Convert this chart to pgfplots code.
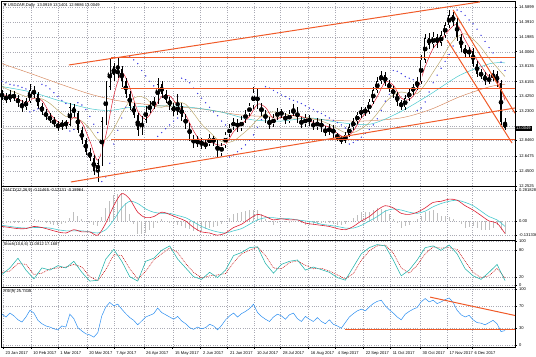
\documentclass[border=0pt]{standalone}
\usepackage{fontspec}
\setmainfont{Liberation Sans}
\newfontfamily\djv{DejaVu Sans}
\usepackage{pgfplots}
\usepackage{pgfplotstable}
\pgfplotsset{compat=1.18}
\definecolor{trendc}{RGB}{240,90,40}
\definecolor{maRed}{RGB}{220,30,50}
\definecolor{maTan}{RGB}{190,170,110}
\definecolor{maCyan}{RGB}{70,200,205}
\definecolor{maBrown}{RGB}{215,140,100}
\definecolor{sarBlue}{RGB}{60,60,225}
\definecolor{rsiBlue}{RGB}{40,140,240}
\definecolor{stTeal}{RGB}{32,178,170}
\definecolor{gridc}{RGB}{170,170,180}
\newcommand\lab{\fontsize{4.1}{4.8}\selectfont}

\pgfplotstableread{
x o h l c s r hist
1 13.45 13.50 13.38 13.42 13.62 55 -0.02
5 13.42 13.47 13.33 13.38 13.60 50 -0.02
9 13.38 13.50 13.35 13.45 13.58 57 -0.02
13 13.45 13.49 13.36 13.40 13.57 52 -0.02
17 13.40 13.44 13.29 13.33 13.56 45 -0.02
21 13.33 13.37 13.22 13.28 13.54 41 -0.015
25 13.28 13.40 13.25 13.36 13.52 50 -0.01
29 13.36 13.58 13.33 13.50 13.22 62 0.005
33 13.50 13.56 13.40 13.45 13.24 57 0.02
37 13.45 13.48 13.26 13.30 13.26 44 0.01
41 13.30 13.34 13.18 13.22 13.58 38 0.00
45 13.22 13.26 13.11 13.15 13.56 34 -0.015
49 13.15 13.20 13.08 13.12 13.52 32 -0.03
53 13.12 13.15 13.02 13.06 13.47 29 -0.035
57 13.06 13.10 12.97 13.02 13.42 27 -0.04
61 13.02 13.12 12.99 13.08 13.37 34 -0.03
65 13.08 13.12 13.00 13.05 13.33 32 -0.02
69 13.05 13.34 13.03 13.28 12.97 55 0.03
73 13.28 13.32 13.15 13.20 12.99 47 0.08
77 13.20 13.23 12.94 12.98 13.34 31 0.05
81 12.98 13.02 12.80 12.85 13.31 25 0.02
85 12.85 12.88 12.66 12.70 13.25 20 0.00
89 12.70 12.75 12.58 12.62 13.16 18 -0.02
93 12.62 12.66 12.40 12.45 13.06 14 -0.035
97 12.45 12.60 12.31 12.55 12.95 22 -0.05
101 12.55 13.15 12.52 13.10 12.31 52 0.035
105 13.10 13.62 13.05 13.55 12.37 68 0.12
109 13.55 13.92 13.50 13.82 12.55 76 0.18
113 13.82 13.86 13.62 13.70 12.80 70 0.24
117 13.70 13.94 13.66 13.78 12.98 73 0.25
121 13.78 13.82 13.55 13.62 13.14 64 0.26
125 13.62 13.66 13.40 13.45 13.28 56 0.16
129 13.45 13.49 13.25 13.30 13.94 49 0.06
133 13.30 13.34 13.14 13.18 13.90 44 -0.03
137 13.18 13.21 12.90 12.98 13.85 36 -0.12
141 12.98 13.16 12.92 13.12 13.76 43 -0.115
145 13.12 13.30 13.08 13.25 13.69 50 -0.11
149 13.25 13.36 13.20 13.30 13.62 53 -0.085
153 13.30 13.41 13.26 13.36 13.56 56 -0.06
157 13.36 13.66 13.32 13.58 12.90 66 -0.02
161 13.58 13.62 13.40 13.45 12.95 58 0.02
165 13.45 13.50 13.33 13.38 13.00 54 0.00
169 13.38 13.42 13.25 13.30 13.05 50 -0.02
173 13.30 13.34 13.17 13.22 13.10 46 -0.03
177 13.22 13.46 13.18 13.30 13.14 51 -0.04
181 13.30 13.34 13.10 13.15 13.66 43 -0.05
185 13.15 13.19 13.00 13.05 13.64 38 -0.06
189 13.05 13.08 12.84 12.88 13.60 31 -0.075
193 12.88 12.92 12.75 12.80 13.53 28 -0.09
197 12.80 12.90 12.76 12.85 13.46 32 -0.09
201 12.85 12.88 12.73 12.78 13.40 29 -0.09
205 12.78 12.85 12.74 12.80 13.34 31 -0.075
209 12.80 12.93 12.77 12.88 13.28 37 -0.06
213 12.88 12.91 12.78 12.82 13.22 34 -0.055
217 12.82 12.85 12.63 12.68 13.17 27 -0.05
221 12.68 12.82 12.65 12.78 13.10 35 -0.025
225 12.78 12.96 12.75 12.92 13.05 45 0.00
229 12.92 13.06 12.89 13.02 12.63 52 0.03
233 13.02 13.14 12.98 13.10 12.66 57 0.06
237 13.10 13.13 12.96 13.00 12.70 50 0.07
241 13.00 13.16 12.97 13.12 12.74 56 0.08
245 13.12 13.24 13.08 13.20 12.79 60 0.09
249 13.20 13.34 13.16 13.30 12.85 65 0.10
253 13.30 13.55 13.26 13.48 12.92 73 0.10
257 13.48 13.52 13.26 13.30 13.02 58 0.10
261 13.30 13.34 13.16 13.20 13.12 51 0.06
265 13.20 13.24 13.08 13.12 13.55 46 0.02
269 13.12 13.15 13.00 13.05 13.53 42 -0.01
273 13.05 13.19 13.02 13.15 13.50 50 -0.04
277 13.15 13.27 13.12 13.22 13.47 55 -0.02
281 13.22 13.26 13.14 13.18 13.44 52 0.00
285 13.18 13.21 13.06 13.10 13.42 46 -0.01
289 13.10 13.24 13.07 13.20 13.39 54 -0.02
293 13.20 13.32 13.16 13.25 13.37 57 -0.01
297 13.25 13.28 13.08 13.12 13.35 47 0.00
301 13.12 13.15 13.01 13.05 13.33 42 -0.02
305 13.05 13.19 13.02 13.15 13.30 51 -0.04
309 13.15 13.18 13.04 13.08 13.27 46 -0.04
313 13.08 13.11 12.98 13.02 13.25 42 -0.04
317 13.02 13.14 12.99 13.10 13.22 49 -0.03
321 13.10 13.13 12.96 13.00 13.20 42 -0.02
325 13.00 13.03 12.91 12.95 13.17 38 -0.02
329 12.95 13.06 12.92 13.02 13.14 45 -0.02
333 13.02 13.05 12.88 12.92 13.11 37 -0.03
337 12.92 12.95 12.84 12.88 13.08 34 -0.04
341 12.88 12.91 12.80 12.84 13.05 30 -0.035
345 12.84 12.96 12.81 12.92 13.01 40 -0.03
349 12.92 13.06 12.89 13.02 12.80 50 0.00
353 13.02 13.14 12.99 13.10 12.82 56 0.03
357 13.10 13.22 13.06 13.18 12.85 61 0.055
361 13.18 13.29 13.14 13.25 12.89 64 0.08
365 13.25 13.28 13.17 13.22 12.94 61 0.08
369 13.22 13.39 13.19 13.35 12.99 68 0.08
373 13.35 13.55 13.32 13.50 13.05 74 0.10
377 13.50 13.67 13.47 13.62 13.13 78 0.12
381 13.62 13.76 13.58 13.70 13.24 80 0.11
385 13.70 13.74 13.56 13.60 13.36 70 0.10
389 13.60 13.64 13.48 13.52 13.45 63 0.06
393 13.52 13.56 13.40 13.45 13.76 57 0.02
397 13.45 13.48 13.30 13.35 13.75 50 -0.02
401 13.35 13.38 13.24 13.28 13.72 45 -0.06
405 13.28 13.44 13.25 13.40 13.68 55 -0.05
409 13.40 13.52 13.36 13.48 13.66 60 -0.04
413 13.48 13.59 13.44 13.55 13.64 64 -0.01
417 13.55 13.67 13.51 13.62 13.24 67 0.02
421 13.62 13.96 13.58 13.90 13.27 77 0.05
425 13.90 14.24 13.86 14.18 13.35 83 0.08
429 14.18 14.25 14.04 14.10 13.48 77 0.09
433 14.10 14.26 14.06 14.20 13.60 80 0.10
437 14.20 14.24 14.06 14.12 13.70 74 0.075
441 14.12 14.28 14.08 14.22 13.79 77 0.05
445 14.22 14.40 14.18 14.35 13.88 81 0.045
449 14.35 14.55 14.31 14.48 13.97 84 0.04
453 14.48 14.53 14.34 14.40 14.08 76 0.02
457 14.40 14.44 14.15 14.20 14.55 62 0.00
461 14.20 14.24 14.00 14.05 14.53 54 -0.03
465 14.05 14.09 13.93 13.98 14.48 50 -0.06
469 13.98 14.07 13.94 14.02 14.42 53 -0.055
473 14.02 14.05 13.80 13.85 14.37 45 -0.05
477 13.85 13.89 13.68 13.72 14.30 40 -0.065
481 13.72 13.78 13.65 13.70 14.22 39 -0.08
485 13.70 13.74 13.57 13.62 14.14 36 -0.08
489 13.62 13.71 13.58 13.66 14.06 40 -0.08
493 13.66 13.77 13.62 13.72 13.99 44 -0.06
497 13.72 13.76 13.55 13.60 13.93 38 -0.04
501 13.60 13.64 13.05 13.09 13.87 24 -0.08
505 13.0919 13.1401 12.9886 13.0049 13.76 25.74 -0.12
}\candles

\pgfplotstableread{
x k d m g red tan
1 25 30 -0.05 -0.04 13.45 13.55
9 40 33 -0.06 -0.05 13.42 13.50
17 62 50 -0.07 -0.06 13.39 13.46
25 35 48 -0.07 -0.065 13.34 13.42
33 15 25 -0.05 -0.06 13.40 13.40
41 40 28 -0.06 -0.06 13.37 13.39
49 35 38 -0.08 -0.065 13.20 13.33
57 45 40 -0.10 -0.08 13.09 13.24
65 40 42 -0.11 -0.09 13.05 13.16
73 55 48 -0.08 -0.09 13.15 13.14
81 30 42 -0.10 -0.09 13.08 13.10
89 10 20 -0.10 -0.10 12.84 13.00
97 12 11 -0.13 -0.11 12.59 12.86
105 60 36 -0.02 -0.08 12.91 12.86
113 82 70 0.14 0.01 13.43 13.00
121 55 68 0.25 0.12 13.73 13.20
129 20 38 0.20 0.18 13.54 13.36
137 10 15 0.08 0.16 13.23 13.42
145 55 32 0.03 0.11 13.13 13.40
153 62 58 0.04 0.08 13.26 13.30
161 80 72 0.08 0.07 13.42 13.28
169 90 85 0.06 0.07 13.43 13.32
177 60 75 0.03 0.05 13.30 13.35
185 40 50 0.00 0.03 13.18 13.32
193 20 30 -0.06 -0.01 12.97 13.20
201 14 17 -0.10 -0.05 12.83 13.06
209 30 22 -0.11 -0.08 12.83 12.96
217 18 24 -0.13 -0.10 12.79 12.86
225 35 27 -0.11 -0.11 12.80 12.82
233 68 52 -0.06 -0.09 12.96 12.84
241 75 72 -0.03 -0.07 13.06 12.92
249 86 80 0.02 -0.03 13.16 13.01
257 88 87 0.06 0.01 13.32 13.12
265 50 68 0.04 0.03 13.28 13.20
273 28 40 0.01 0.03 13.13 13.22
281 48 38 0.02 0.02 13.15 13.20
289 55 52 0.01 0.02 13.17 13.18
297 58 56 0.01 0.01 13.17 13.16
305 35 46 -0.02 0.00 13.14 13.15
313 42 38 -0.03 -0.01 13.08 13.13
321 36 39 -0.04 -0.03 13.05 13.10
329 30 33 -0.05 -0.04 13.02 13.06
337 18 24 -0.07 -0.05 12.94 13.00
345 12 15 -0.08 -0.065 12.89 12.95
353 42 27 -0.05 -0.065 12.97 12.95
361 72 57 0.00 -0.04 13.14 13.00
369 86 79 0.04 0.00 13.25 13.08
377 93 90 0.10 0.04 13.42 13.20
385 90 92 0.14 0.09 13.61 13.34
393 58 74 0.12 0.11 13.57 13.44
401 22 40 0.07 0.10 13.40 13.48
409 35 28 0.06 0.08 13.38 13.46
417 58 46 0.08 0.07 13.51 13.46
425 86 72 0.12 0.09 13.81 13.58
433 90 88 0.17 0.13 14.05 13.74
441 80 85 0.18 0.16 14.16 13.90
449 92 86 0.20 0.18 14.29 14.08
457 72 82 0.19 0.19 14.36 14.20
465 38 55 0.14 0.17 14.16 14.24
473 22 30 0.10 0.14 13.98 14.17
481 14 18 0.05 0.09 13.82 14.06
489 30 22 0.00 0.04 13.68 13.92
497 48 39 -0.02 0.01 13.65 13.80
505 11.08 17.17 -0.115 -0.05 13.37 13.68
}\osc

\pgfplotstableread{
x y
1 13.55
30 13.48
60 13.36
90 13.26
110 13.24
130 13.28
160 13.30
190 13.28
220 13.22
250 13.12
280 13.10
310 13.14
340 13.08
370 13.06
400 13.22
430 13.45
460 13.70
490 13.85
505 13.86
}\cyanma

\pgfplotstableread{
x y
1 13.85
30 13.72
60 13.58
90 13.45
120 13.36
160 13.30
200 13.26
240 13.18
280 13.15
320 13.12
360 13.10
400 13.14
430 13.25
460 13.42
490 13.55
505 13.58
}\brownma

\pgfplotsset{
  mtpanel/.style={
    scale only axis, width=514bp, xmin=0, xmax=515, anchor=south west,
    axis line style={black, line width=0.6pt},
    xtick={2,30,57,86,113,143,172,200,227,254,280,308,335,363,390,420,447,472},
    grid=major,
    major grid style={gridc, line width=0.3pt, dash pattern=on 1bp off 1.3bp},
    ytick pos=right, yticklabel pos=right, xtick pos=bottom,
    tick align=outside, major tick length=1.8bp,
    tick style={black, line width=0.4pt},
    tick label style={font=\lab, text=black},
    yticklabel style={anchor=west, xshift=-1.2bp},
    clip mode=individual,
  },
  upper/.style={xticklabels={}, major x tick style={draw=none}},
  trend/.style={trendc, line width=1.0pt},
}

\begin{document}
\begin{tikzpicture}
\useasboundingbox (0,0) rectangle (536bp,357bp);

% ---------------- main price panel ----------------
\begin{axis}[mtpanel, upper, at={(1bp,171bp)}, height=185bp,
  ymin=12.2525, ymax=14.668,
  ytick={12.2525,12.4500,12.6475,12.8460,13.0325,13.2300,13.4250,13.6155,13.8135,14.0060,14.1985,14.3910,14.5899},
  yticklabels={12.2525,12.4500,12.6475,12.8460,{},13.2300,13.4250,13.6155,13.8135,14.0060,14.1985,14.3910,14.5899}]
\addplot[gray!40, line width=0.5pt] coordinates {(0,13.0049) (515,13.0049)};
\addplot[maBrown, line width=0.5pt, smooth] table[x=x,y=y]{\brownma};
\addplot[maCyan, line width=0.5pt, smooth] table[x=x,y=y]{\cyanma};
\addplot[maTan, line width=0.5pt, smooth] table[x=x,y=tan]{\osc};
\addplot[maRed, line width=0.5pt, smooth] table[x=x,y=red]{\osc};
% candles: wicks
\addplot[only marks, mark=none, error bars/.cd, y dir=both, y explicit, error mark=none,
  error bar style={black, line width=0.35pt}]
  table[x=x, y expr={(\thisrow{h}+\thisrow{l})/2}, y error expr={(\thisrow{h}-\thisrow{l})/2}]{\candles};
% candles: bodies
\addplot[only marks, mark=none, error bars/.cd, y dir=both, y explicit, error mark=none,
  error bar style={black, line width=1.7bp}]
  table[x=x, y expr={(\thisrow{o}+\thisrow{c})/2}, y error expr={max(abs(\thisrow{c}-\thisrow{o})/2,0.004)}]{\candles};
% hollow bullish bodies
\addplot[only marks, mark=none, error bars/.cd, y dir=both, y explicit, error mark=none,
  error bar style={white, line width=0.75bp}]
  table[x=x, y expr={(\thisrow{o}+\thisrow{c})/2}, y error expr={\thisrow{c}>\thisrow{o} ? max((\thisrow{c}-\thisrow{o})/2-0.007,0) : 0}]{\candles};
% parabolic SAR
\addplot[only marks, mark=*, mark size=0.42bp, sarBlue] table[x=x,y=s]{\candles};
% trend lines
\addplot[trend] coordinates {(68,13.8325) (480,14.656)};
\addplot[trend] coordinates {(70,12.305) (515,13.271)};
\addplot[trend] coordinates {(110,13.93) (515,13.93)};
\addplot[trend] coordinates {(120,13.52) (515,13.52)};
\addplot[trend] coordinates {(110,12.866) (515,12.866)};
\addplot[trend] coordinates {(453,14.551) (515,13.202)};
\addplot[trend] coordinates {(447,14.159) (512,12.814)};
\node[anchor=north west, font=\lab, inner sep=0] at (rel axis cs:0,1) [xshift=2.5bp, yshift=-2.5bp]
  {{\djv ▼} USDZAR,Daily\ \ 13.0919 13.1401 12.9886 13.0049};
\node[fill=black, text=white, anchor=west, inner xsep=0.8bp, inner ysep=0.7bp, font=\lab] at (axis cs:515,13.0049) {13.0049};
\end{axis}

% ---------------- MACD ----------------
\begin{axis}[mtpanel, upper, at={(1bp,117bp)}, height=54bp,
  ymin=-0.174, ymax=0.32,
  ytick={-0.131336,0,0.281828}, yticklabels={-0.131336,0.00,0.281828}]
\addplot[ycomb, mark=none, gray!50, line width=0.8bp] table[x=x,y=hist]{\candles};
\addplot[maCyan, line width=0.6pt, smooth] table[x=x,y=g]{\osc};
\addplot[maRed, line width=0.6pt, smooth] table[x=x,y=m]{\osc};
\node[anchor=north west, font=\lab, inner sep=0] at (rel axis cs:0,1) [xshift=2.5bp, yshift=-2.5bp]
  {MACD(12,26,9) -0.11465 -0.12131 -0.18964};
\end{axis}

% ---------------- Stochastic ----------------
\begin{axis}[mtpanel, upper, at={(1bp,70bp)}, height=47bp,
  ymin=-3.4, ymax=103.4,
  ytick={0,20,80,100}, yticklabels={0,20,80,100}]
\addplot[red!75!black, line width=0.5pt, dash pattern=on 0.9bp off 0.9bp] table[x=x,y=d]{\osc};
\addplot[stTeal, line width=0.55pt] table[x=x,y=k]{\osc};
\node[anchor=north west, font=\lab, inner sep=0] at (rel axis cs:0,1) [xshift=2.5bp, yshift=-2.5bp]
  {Stoch(10,6,6) 11.0812 17.1687};
\end{axis}

% ---------------- RSI ----------------
\begin{axis}[mtpanel, at={(1bp,10bp)}, height=60bp,
  ymin=-3.6, ymax=103.6,
  ytick={0,30,70,100}, yticklabels={0,30,70,100},
  xticklabels={23 Jan 2017,10 Feb 2017,1 Mar 2017,20 Mar 2017,7 Apr 2017,26 Apr 2017,15 May 2017,2 Jun 2017,21 Jun 2017,10 Jul 2017,28 Jul 2017,16 Aug 2017,4 Sep 2017,22 Sep 2017,11 Oct 2017,30 Oct 2017,17 Nov 2017,6 Dec 2017},
  xticklabel style={anchor=north west, xshift=-1bp, yshift=0.5bp}]
\addplot[rsiBlue, line width=0.5pt] table[x=x,y=r]{\candles};
\addplot[trend] coordinates {(430,85.5) (515,52.7)};
\addplot[trend] coordinates {(345,27.3) (515,27.3)};
\node[anchor=north west, font=\lab, inner sep=0] at (rel axis cs:0,1) [xshift=2.5bp, yshift=-2.5bp]
  {RSI(9) 25.7438};
\end{axis}
\end{tikzpicture}
\end{document}
